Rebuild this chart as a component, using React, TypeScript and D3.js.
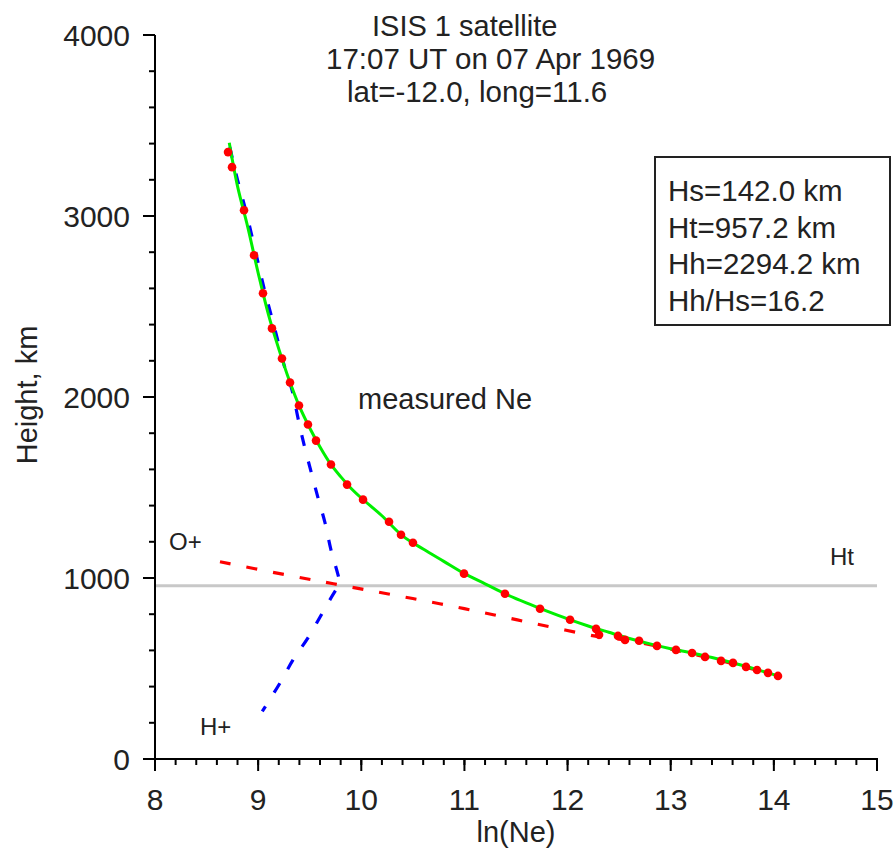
import React from "react";
import * as d3 from "d3";

const measX = [8.708, 8.747, 8.863, 8.96, 9.047, 9.134, 9.231, 9.309, 9.396, 9.483, 9.561, 9.706, 9.862, 10.017, 10.269, 10.385, 10.501, 10.996, 11.393, 11.733, 12.024, 12.276, 12.305, 12.489, 12.557, 12.693, 12.867, 13.051, 13.207, 13.333, 13.488, 13.604, 13.73, 13.837, 13.943, 14.04];
const measH = [3353, 3270, 3032, 2783, 2573, 2379, 2213, 2080, 1953, 1848, 1759, 1627, 1516, 1433, 1311, 1239, 1195, 1024, 913, 830, 769, 719, 686, 680, 658, 653, 625, 603, 586, 564, 542, 531, 509, 492, 476, 459];

const fitX = [8.72, 8.8, 8.9, 9.0, 9.1, 9.2, 9.3, 9.4, 9.5, 9.6, 9.7, 9.8, 9.9, 10.0, 10.2, 10.4, 10.6, 10.8, 11.0, 11.2, 11.4, 11.6, 11.8, 12.0, 12.2, 12.4, 12.6, 12.8, 13.0, 13.2, 13.4, 13.6, 13.8, 14.0, 14.06];
const fitH = [3405, 3165, 2937, 2686, 2455, 2266, 2095, 1948, 1829, 1724, 1632, 1560, 1496, 1442, 1344, 1233, 1160, 1092, 1024, 968, 911, 862, 817, 774, 735, 700, 666, 636, 609, 586, 561, 532, 500, 466, 456];

const hX = [8.725, 8.80, 8.88, 8.98, 9.06, 9.16, 9.255, 9.335, 9.385, 9.445, 9.513, 9.58, 9.648, 9.706, 9.774, 9.794, 9.755, 9.629, 9.483, 9.338, 9.212, 9.04];
const hH = [3380, 3200, 3030, 2790, 2595, 2380, 2170, 2025, 1887, 1737, 1588, 1444, 1306, 1156, 1018, 963, 935, 813, 669, 548, 420, 263];

const oX = [8.63, 9.21, 9.73, 10.25, 10.76, 11.28, 11.78, 12.31, 12.55, 13.0, 13.5, 14.04];
const oH = [1090, 1024, 968, 913, 858, 797, 736, 675, 658, 607, 541, 459];

const Ht = 957.2;
const xTicks = [8, 9, 10, 11, 12, 13, 14, 15];
const yTicks = [0, 1000, 2000, 3000, 4000];
const titleLines = ["ISIS 1 satellite", "17:07 UT on 07 Apr 1969", "lat=-12.0, long=11.6"];
const boxLines = ["Hs=142.0 km", "Ht=957.2 km", "Hh=2294.2 km", "Hh/Hs=16.2"];

const FONT = "'Liberation Sans', Arial, sans-serif";

export default function App() {
  const x = d3.scaleLinear().domain([8, 15]).range([155, 877]);
  const y = d3.scaleLinear().domain([0, 4000]).range([759, 35]);

  const line = d3
    .line<[number, number]>()
    .x((d) => x(d[0]))
    .y((d) => y(d[1]))
    .curve(d3.curveCatmullRom);

  const fit = fitX.map((v, i) => [v, fitH[i]] as [number, number]);
  const hp = hX.map((v, i) => [v, hH[i]] as [number, number]);
  const op = oX.map((v, i) => [v, oH[i]] as [number, number]);

  const xMinor = d3.range(8, 15.0001, 0.2);
  const yMinor = d3.range(0, 4000.1, 200);

  return (
    <svg width={895} height={850} style={{ position: "absolute", left: 0, top: 0, background: "#fff" }} fontFamily={FONT}>
      <rect x={0} y={0} width={895} height={850} fill="#fff" />
      <line x1={x(8)} x2={x(15)} y1={y(Ht)} y2={y(Ht)} stroke="#c8c8c8" strokeWidth={3} />
      <path d={line(op) || ""} fill="none" stroke="#ff0000" strokeWidth={3.2} strokeDasharray="11,16" />
      <path d={line(hp) || ""} fill="none" stroke="#0000ff" strokeWidth={3.2} strokeDasharray="11,16" />
      <path d={line(fit) || ""} fill="none" stroke="#00f000" strokeWidth={3} />
      {measX.map((v, i) => (
        <circle key={i} cx={x(v)} cy={y(measH[i])} r={4.3} fill="#ff0000" />
      ))}
      <line x1={155} x2={155} y1={y(4000)} y2={y(0) + 1} stroke="#000" strokeWidth={2} />
      <line x1={x(8) - 1} x2={x(15) + 1} y1={y(0)} y2={y(0)} stroke="#000" strokeWidth={2} />
      {xMinor.map((v, i) => (
        <line key={"xm" + i} x1={x(v)} x2={x(v)} y1={y(0)} y2={y(0) + 6} stroke="#000" strokeWidth={2} />
      ))}
      {xTicks.map((v) => (
        <g key={"xt" + v}>
          <line x1={x(v)} x2={x(v)} y1={y(0)} y2={y(0) + 12} stroke="#000" strokeWidth={2} />
          <text x={x(v)} y={810} textAnchor="middle" fontSize={30} fill="#222">
            {v}
          </text>
        </g>
      ))}
      {yMinor.map((v, i) => (
        <line key={"ym" + i} x1={155 - 6} x2={155} y1={y(v)} y2={y(v)} stroke="#000" strokeWidth={2} />
      ))}
      {yTicks.map((v) => (
        <g key={"yt" + v}>
          <line x1={155 - 12} x2={155} y1={y(v)} y2={y(v)} stroke="#000" strokeWidth={2} />
          <text x={130} y={y(v) + 11} textAnchor="end" fontSize={30} fill="#222">
            {v}
          </text>
        </g>
      ))}
      <text x={x(11.5)} y={842} textAnchor="middle" fontSize={29} fill="#222">
        ln(Ne)
      </text>
      <text transform={`translate(37,${395}) rotate(-90)`} textAnchor="middle" fontSize={29} fill="#222">
        Height, km
      </text>
      <text x={372} y={36} fontSize={29} fill="#222">{titleLines[0]}</text>
      <text x={326} y={69} fontSize={29.5} fill="#222">{titleLines[1]}</text>
      <text x={347} y={102} fontSize={29.5} fill="#222">{titleLines[2]}</text>
      <rect x={655} y={157} width={235} height={168} fill="none" stroke="#222" strokeWidth={2} />
      {boxLines.map((t, i) => (
        <text key={t} x={668} y={201 + i * 36.5} fontSize={29.5} fill="#222">
          {t}
        </text>
      ))}
      <text x={358} y={409} fontSize={29} fill="#222">measured Ne</text>
      <text x={169} y={550} fontSize={24} fill="#222">O+</text>
      <text x={200} y={735} fontSize={24} fill="#222">H+</text>
      <text x={830} y={565} fontSize={24} fill="#222">Ht</text>
    </svg>
  );
}
